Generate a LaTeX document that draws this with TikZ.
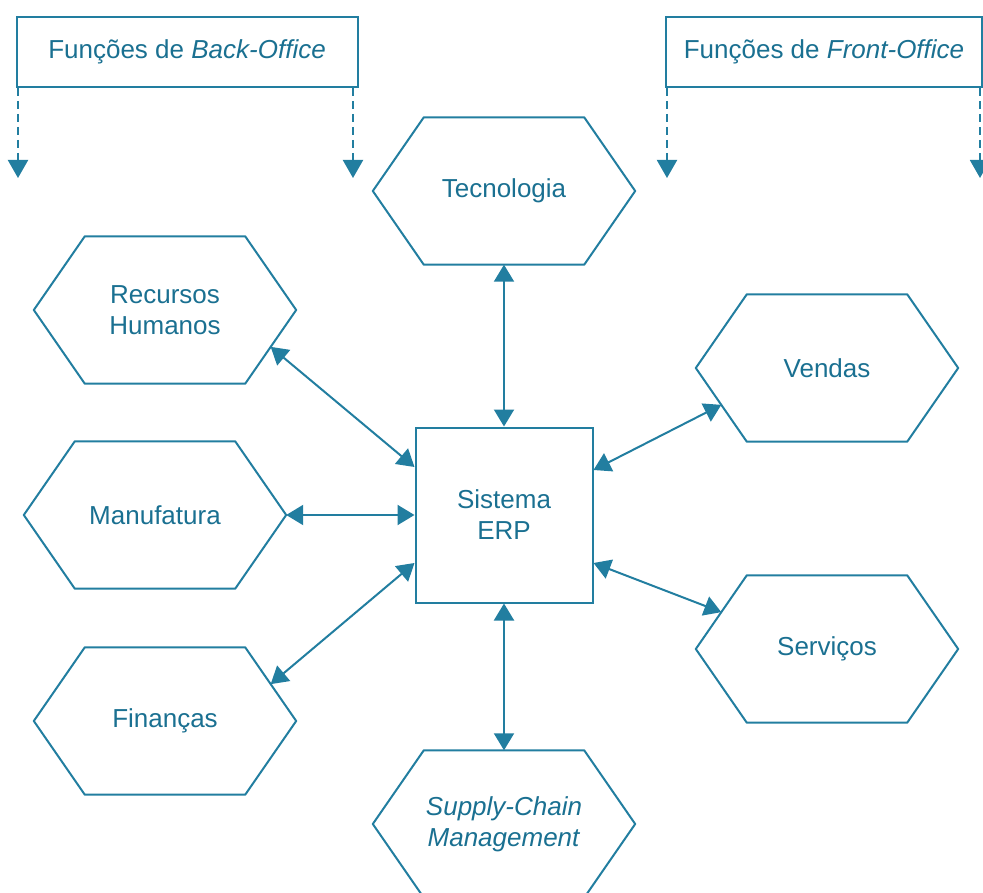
\documentclass[tikz,border=0pt]{standalone}
\usepackage{fontspec}
\setmainfont{Liberation Sans}
\usetikzlibrary{arrows.meta,calc}
\definecolor{erpblue}{RGB}{34,126,160}
\definecolor{erptext}{RGB}{26,112,145}
\tikzset{
  hexa/.style={minimum width=262pt, minimum height=147pt, align=center, text=erptext},
  hexline/.style={draw=erpblue, line width=2pt, line join=round},
  sysbox/.style={draw=erpblue, line width=2pt, minimum width=177pt, minimum height=175pt, align=center, text=erptext},
  officebox/.style={draw=erpblue, line width=2pt, minimum height=70pt, text=erptext},
  link/.style={draw=erpblue, line width=2pt, {Triangle[width=20pt,length=17pt]}-{Triangle[width=20pt,length=17pt]}},
  dasharrow/.style={draw=erpblue, line width=2pt, dash pattern=on 8pt off 5pt, -{Triangle[width=20pt,length=18pt]}}
}
\begin{document}
\begin{tikzpicture}[x=1pt, y=-1pt, every node/.style={font=\fontsize{26}{31}\selectfont}]
  \useasboundingbox (0,0) rectangle (983,893);

  \node[officebox, minimum width=341pt] (back) at (187,52) {Funções de \textit{Back-Office}};
  \node[officebox, minimum width=316pt] (front) at (824,52) {Funções de \textit{Front-Office}};
  \coordinate (back-l) at (18,178);
  \coordinate (back-r) at (353,178);
  \coordinate (front-l) at (667,178);
  \coordinate (front-r) at (980,178);
  \draw[dasharrow] (back.south -| back-l) -- (back-l);
  \draw[dasharrow] (back.south -| back-r) -- (back-r);
  \draw[dasharrow] (front.south -| front-l) -- (front-l);
  \draw[dasharrow] (front.south -| front-r) -- (front-r);

  \node[sysbox] (erp) at (504,515) {Sistema\\ERP};

  \node[hexa] (tec) at (504,191) {Tecnologia};
  \node[hexa] (rh) at (165,310) {Recursos\\Humanos};
  \node[hexa] (man) at (155,515) {Manufatura};
  \node[hexa] (fin) at (165,721) {Finanças};
  \node[hexa] (ven) at (827,368) {Vendas};
  \node[hexa] (ser) at (827,649) {Serviços};
  \node[hexa] (scm) at (504,824) {\textit{Supply-Chain}\\\textit{Management}};

  \foreach \n in {tec,rh,man,fin,ven,ser,scm}
    \draw[hexline] ([xshift=51pt]\n.north west) -- ([xshift=-51pt]\n.north east) -- (\n.east)
      -- ([xshift=-51pt]\n.south east) -- ([xshift=51pt]\n.south west) -- (\n.west) -- cycle;

  \draw[link] (tec.south) -- (erp.north);
  \draw[link] (erp.south) -- (scm.north);
  \draw[link] (man.east) -- (erp.west);
  \draw[link] ($(rh.east)!.5!([xshift=-51pt]rh.south east)$) -- ([yshift=48pt]erp.west);
  \draw[link] ($(fin.east)!.5!([xshift=-51pt]fin.north east)$) -- ([yshift=-48pt]erp.west);
  \draw[link] ($(ven.west)!.5!([xshift=51pt]ven.south west)$) -- ([yshift=45pt]erp.east);
  \draw[link] ($(ser.west)!.5!([xshift=51pt]ser.north west)$) -- ([yshift=-48pt]erp.east);
\end{tikzpicture}
\end{document}
